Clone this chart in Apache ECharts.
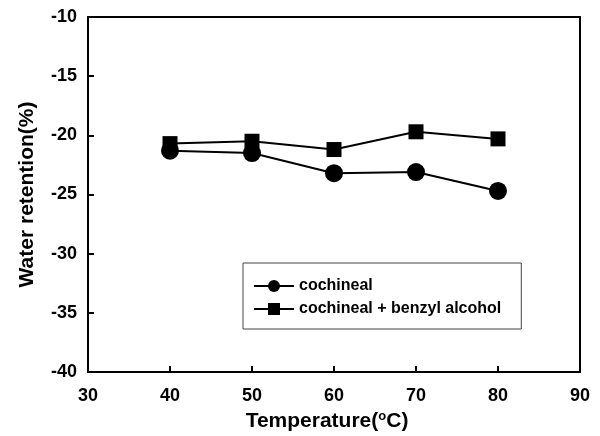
<!DOCTYPE html>
<html>
<head>
<meta charset="utf-8">
<script src="https://cdn.jsdelivr.net/npm/echarts@6/dist/echarts.min.js"></script>
<style>
  html, body { margin: 0; padding: 0; background: #fff; }
</style>
</head>
<body>
<!-- chart container -->
<div id="chart" style="width:600px;height:436px;"></div>
<script>
const temps = [40, 50, 60, 70, 80];
const cochineal = [-21.3, -21.5, -23.2, -23.1, -24.7];
const cochinealBenzyl = [-20.7, -20.5, -21.2, -19.7, -20.3];
const seriesNames = ['cochineal', 'cochineal + benzyl alcohol'];
const xRange = [30, 90, 10];
const yRange = [-40, -10, 5];

const myChart = echarts.init(document.getElementById('chart'));
const font = 'Liberation Sans, Arial, sans-serif';

const pairs = arr => temps.map((t, i) => [t, arr[i]]);

const tick = { show: true, inside: true, length: 6, lineStyle: { color: '#000', width: 2 } };
const line = { show: true, onZero: false, lineStyle: { color: '#000', width: 2 } };

// 上方和右侧的框线用第二个轴画
const frameX = {
  type: 'value', position: 'top', min: xRange[0], max: xRange[1], interval: xRange[2],
  axisLine: line, axisTick: { show: false }, axisLabel: { show: false }, splitLine: { show: false }
};
const frameY = {
  type: 'value', position: 'right', min: yRange[0], max: yRange[1], interval: yRange[2],
  axisLine: line, axisTick: { show: false }, axisLabel: { show: false }, splitLine: { show: false }
};

const option = {
  animation: false,
  grid: {
    left: 88, right: 20, top: 17, bottom: 64,
    outerBoundsMode: 'none',
    containLabel: false
  },
  legend: {
    left: 243, top: 263,
    orient: 'vertical',
    padding: [15, 20, 12, 10],
    itemGap: 7,
    itemWidth: 40, itemHeight: 15,
    borderColor: '#444', borderWidth: 1,
    textStyle: { fontFamily: font, fontWeight: 'bold', fontSize: 16, color: '#000' },
    data: seriesNames
  },
  xAxis: [{
    type: 'value', position: 'bottom', min: xRange[0], max: xRange[1], interval: xRange[2],
    axisLine: line,
    axisTick: tick,
    splitLine: { show: false },
    axisLabel: { margin: 15, color: '#000', fontFamily: font, fontWeight: 'bold', fontSize: 18 },
    name: 'Temperature({sup|o}C)',
    nameLocation: 'middle', nameGap: 32,
    nameTextStyle: {
      color: '#000', fontFamily: font, fontWeight: 'bold', fontSize: 21,
      padding: [0, 14, 0, 0],
      rich: { sup: { fontSize: 13, fontWeight: 'bold', fontFamily: font, color: '#000', verticalAlign: 'top', padding: [0, 0, 9, 0] } }
    }
  }, frameX],
  yAxis: [{
    type: 'value', position: 'left', min: yRange[0], max: yRange[1], interval: yRange[2],
    axisLine: line,
    axisTick: tick,
    splitLine: { show: false },
    axisLabel: { margin: 11, color: '#000', fontFamily: font, fontWeight: 'bold', fontSize: 18 },
    name: 'Water retention(%)',
    nameLocation: 'middle', nameGap: 50, nameRotate: 90,
    nameTextStyle: { color: '#000', fontFamily: font, fontWeight: 'bold', fontSize: 21 }
  }, frameY],
  series: [
    {
      name: seriesNames[0], type: 'line', data: pairs(cochineal),
      symbol: 'circle', symbolSize: 18,
      lineStyle: { color: '#000', width: 2 },
      itemStyle: { color: '#000' }
    },
    {
      name: seriesNames[1], type: 'line', data: pairs(cochinealBenzyl),
      symbol: 'rect', symbolSize: 15,
      lineStyle: { color: '#000', width: 2 },
      itemStyle: { color: '#000' }
    }
  ]
};

myChart.setOption(option);
</script>
</body>
</html>
